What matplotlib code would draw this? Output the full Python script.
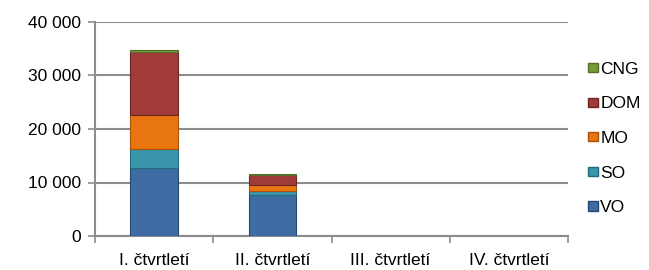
import numpy as np
import matplotlib.pyplot as plt
from matplotlib.patches import Patch
from matplotlib.ticker import FuncFormatter

plt.rcParams['font.family'] = ['Liberation Sans', 'DejaVu Sans']

quarters = ['I. čtvrtletí', 'II. čtvrtletí', 'III. čtvrtletí', 'IV. čtvrtletí']
series = ['VO', 'SO', 'MO', 'DOM', 'CNG']
vo = [12760, 7650, 0, 0]
so = [3500, 800, 0, 0]
mo = [6380, 1000, 0, 0]
dom = [11800, 1900, 0, 0]
cng = [270, 170, 0, 0]
values = [vo, so, mo, dom, cng]
colors = ['#3e6ca3', '#3a95ab', '#e8750f', '#a03b39', '#7a9a3a']
edges = ['#274a75', '#246a7a', '#a8520a', '#6e2624', '#55702a']

fig = plt.figure(figsize=(6.49, 2.70), dpi=100)
ax = fig.add_axes([95 / 649, 34 / 270, 473 / 649, 214 / 270])

x = np.arange(len(quarters))
bottom = np.zeros(len(quarters))
for name, vals, c, e in zip(series, values, colors, edges):
    lw = [0.8 if v > 0 else 0 for v in vals]
    ax.bar(x, vals, width=0.4, bottom=bottom, color=c, edgecolor=e, linewidth=lw,
           label=name, zorder=3)
    bottom += np.array(vals)

ax.set_xlim(-0.5, len(quarters) - 0.5)
ax.set_ylim(0, 40000)
ax.set_yticks(np.arange(0, 40001, 10000))
ax.yaxis.set_major_formatter(FuncFormatter(lambda v, p: f'{int(v):,}'.replace(',', ' ')))
ax.yaxis.grid(True, color='#8c8c8c', linewidth=1.5, zorder=0)
ax.set_axisbelow(True)

ax.set_xticks(x)
ax.set_xticklabels(quarters)
ax.set_xticks(np.arange(-0.5, len(quarters)), minor=True)
ax.tick_params(axis='x', which='major', length=0, labelsize=12.5, pad=12)
ax.tick_params(axis='x', which='minor', length=5, color='#8c8c8c', width=1.2)
ax.tick_params(axis='y', length=5, color='#8c8c8c', width=1.2, labelsize=12.5, pad=5)

for s in ['top', 'right']:
    ax.spines[s].set_visible(False)
for s in ['left', 'bottom']:
    ax.spines[s].set_color('#8c8c8c')
    ax.spines[s].set_linewidth(1.5)

handles = [Patch(facecolor=c, edgecolor=e, label=n) for n, c, e in zip(series, colors, edges)][::-1]
fig.legend(handles=handles, loc='center left', bbox_to_anchor=(588 / 649, 1 - 138.5 / 270),
           frameon=False, fontsize=12.5, handlelength=0.6, handleheight=0.45,
           handletextpad=0.1, labelspacing=1.13, borderpad=0, borderaxespad=0)

fig.savefig('out.png', dpi=100)
